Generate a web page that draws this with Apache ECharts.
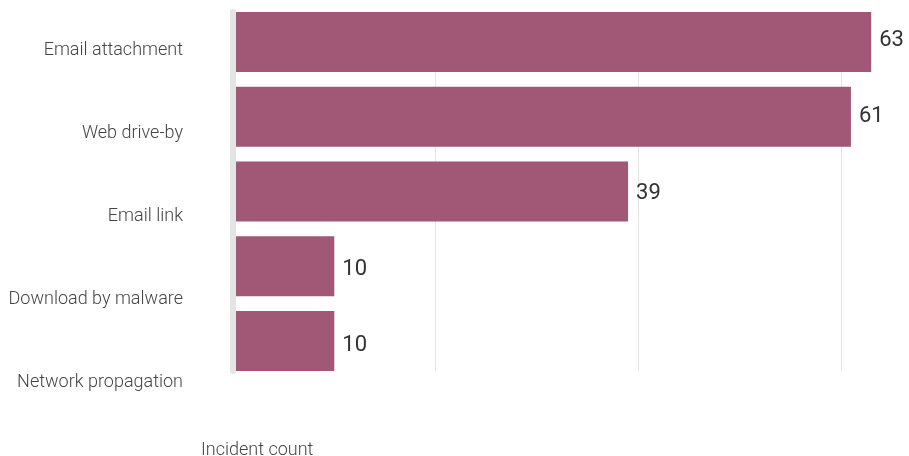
<!DOCTYPE html>
<html>
<head>
<meta charset="utf-8">
<script src="https://cdn.jsdelivr.net/npm/echarts@6/dist/echarts.min.js"></script>
<style>html,body{margin:0;padding:0;background:#fff;}#c{width:909px;height:456px;}</style>
</head>
<body>
<div id="c"></div>
<script>
const categories = ["Email attachment", "Web drive-by", "Email link", "Download by malware", "Network propagation"];
const incidents = [63, 61, 39, 10, 10];
const axisName = "Incident count";

const chart = echarts.init(document.getElementById('c'), null, {renderer: 'canvas'});
const xMax = 66;
const plotLeft = 233;
const plotRight = 909 - plotLeft - xMax * 10.13;
chart.setOption({
  animation: false,
  title: {
    text: axisName, left: 201, top: 441, padding: 0,
    textStyle: {fontFamily: 'Roboto', fontWeight: 300, fontSize: 18, color: '#444'}
  },
  grid: [
    {left: plotLeft, right: plotRight, top: 4.6, height: 373.8},
    {left: plotLeft, right: plotRight, top: 12, height: 359},
    {left: plotLeft, right: plotRight, top: 9.6, height: 413.8},
    {left: plotLeft, right: plotRight, top: 2.1, height: 382}
  ],
  xAxis: [
    {gridIndex: 0, type: 'value', min: 0, max: xMax, show: false},
    {gridIndex: 1, type: 'value', min: 0, max: xMax, interval: 20,
     axisLine: {show: false}, axisTick: {show: false}, axisLabel: {show: false},
     splitLine: {show: true, showMinLine: false, showMaxLine: false, lineStyle: {color: '#e6e6e6', width: 1}}},
    {gridIndex: 2, type: 'value', min: 0, max: xMax, show: false},
    {gridIndex: 3, type: 'value', min: 0, max: xMax, show: false}
  ],
  yAxis: [
    {gridIndex: 0, type: 'category', data: categories, inverse: true, show: false},
    {gridIndex: 1, type: 'category', data: categories, inverse: true, z: 5,
     axisLine: {show: true, onZero: false, lineStyle: {color: '#e3e5e4', width: 6}},
     axisTick: {show: false}, axisLabel: {show: false}, splitLine: {show: false}},
    {gridIndex: 2, type: 'category', data: categories, inverse: true,
     axisLine: {show: false}, axisTick: {show: false},
     axisLabel: {margin: 50, fontFamily: 'Roboto', fontWeight: 300, fontSize: 18, color: '#444'}},
    {gridIndex: 3, type: 'category', data: categories, inverse: true, show: false}
  ],
  series: [{
    type: 'bar', xAxisIndex: 0, yAxisIndex: 0,
    data: incidents,
    barCategoryGap: '20%',
    itemStyle: {color: '#a15776'}
  }, {
    type: 'bar', xAxisIndex: 3, yAxisIndex: 3,
    data: incidents,
    barWidth: 1,
    silent: true,
    itemStyle: {color: 'rgba(0,0,0,0)'},
    label: {show: true, position: 'right', distance: 8,
            fontFamily: 'Roboto', fontSize: 22, color: '#333'}
  }]
});
</script>
</body>
</html>
